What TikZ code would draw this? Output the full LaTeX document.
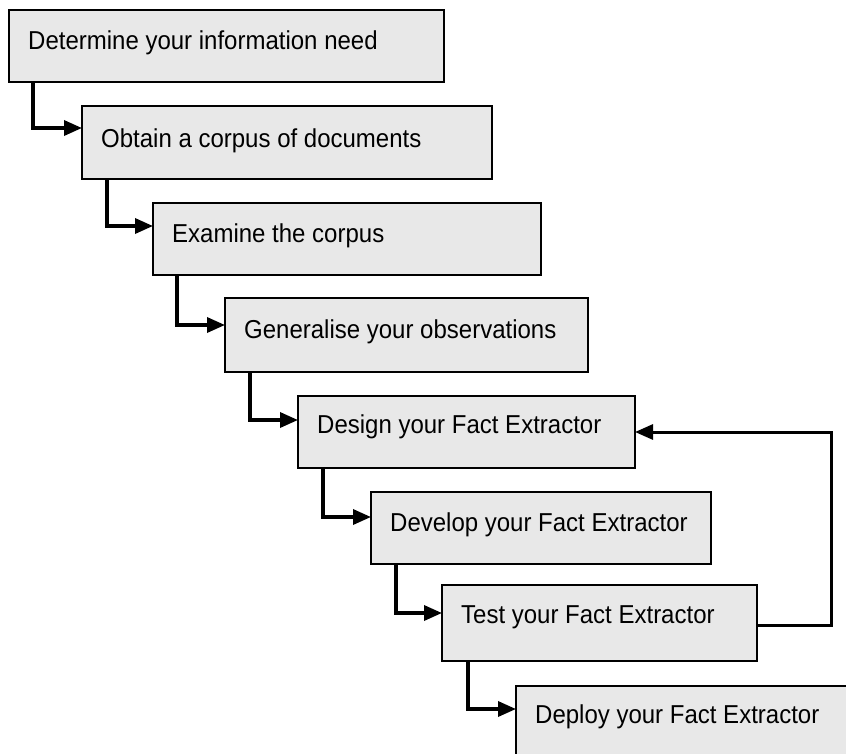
\documentclass[tikz,border=0pt]{standalone}
\usepackage{fontspec}
\usepackage{graphicx}
\setmainfont{Liberation Sans}
\usetikzlibrary{arrows.meta}
\definecolor{boxfill}{RGB}{232,232,232}
\newcommand{\tallt}[1]{\scalebox{1}[1.08]{#1}}
\tikzset{
  stepbox/.style={draw=black, line width=2.2pt, fill=boxfill, rectangle, anchor=north west, inner sep=0pt, outer sep=0pt},
  lbl/.style={anchor=base west, inner sep=0pt, font=\fontsize{24}{28}\selectfont},
  conn/.style={line width=3.4pt, -{Triangle[length=18pt 0 0,width=15pt 0 0]}},
  fb/.style={line width=3pt, -{Triangle[length=18pt 0 0,width=15pt 0 0]}}
}
\begin{document}
\begin{tikzpicture}[x=1pt,y=-1pt]
\useasboundingbox (0,0) rectangle (846,753);
\clip (0,0) rectangle (846,753);
% boxes
\node[stepbox, minimum width=435pt, minimum height=72pt] (b1) at (9,10) {};
\node[stepbox, minimum width=410pt, minimum height=73pt] (b2) at (82,106) {};
\node[stepbox, minimum width=388pt, minimum height=72pt] (b3) at (153,203) {};
\node[stepbox, minimum width=363pt, minimum height=74pt] (b4) at (225,298) {};
\node[stepbox, minimum width=337pt, minimum height=72pt] (b5) at (298,396) {};
\node[stepbox, minimum width=340pt, minimum height=72pt] (b6) at (371,492) {};
\node[stepbox, minimum width=315pt, minimum height=76pt] (b7) at (442,585) {};
\node[stepbox, minimum width=360pt, minimum height=90pt] (b8) at (516,686) {};
% labels
\node[lbl] (t1) at (28,49) {\tallt{Determine your information need}};
\node[lbl] (t2) at (101,147) {\tallt{Obtain a corpus of documents}};
\node[lbl] (t3) at (172,242) {\tallt{Examine the corpus}};
\node[lbl] (t4) at (244,338) {\tallt{Generalise your observations}};
\node[lbl] (t5) at (317,433) {\tallt{Design your Fact Extractor}};
\node[lbl] (t6) at (390,531) {\tallt{Develop your Fact Extractor}};
\node[lbl] (t7) at (461,623) {\tallt{Test your Fact Extractor}};
\node[lbl] (t8) at (535,723) {\tallt{Deploy your Fact Extractor}};
% connectors
\draw[conn] ([xshift=24pt]b1.south west) |- ([yshift=-22pt]b2.north west);
\draw[conn] ([xshift=25pt]b2.south west) |- ([yshift=-23pt]b3.north west);
\draw[conn] ([xshift=24pt]b3.south west) |- ([yshift=-27pt]b4.north west);
\draw[conn] ([xshift=25pt]b4.south west) |- ([yshift=-24pt]b5.north west);
\draw[conn] ([xshift=25pt]b5.south west) |- ([yshift=-25pt]b6.north west);
\draw[conn] ([xshift=25pt]b6.south west) |- ([yshift=-28pt]b7.north west);
\draw[conn] ([xshift=26pt]b7.south west) |- ([yshift=-23pt]b8.north west);
% feedback loop
\coordinate (fbc) at (831,625);
\draw[fb] ([yshift=-40pt]b7.north east) -- (fbc) |- ([yshift=-36pt]b5.north east);
\end{tikzpicture}
\end{document}
